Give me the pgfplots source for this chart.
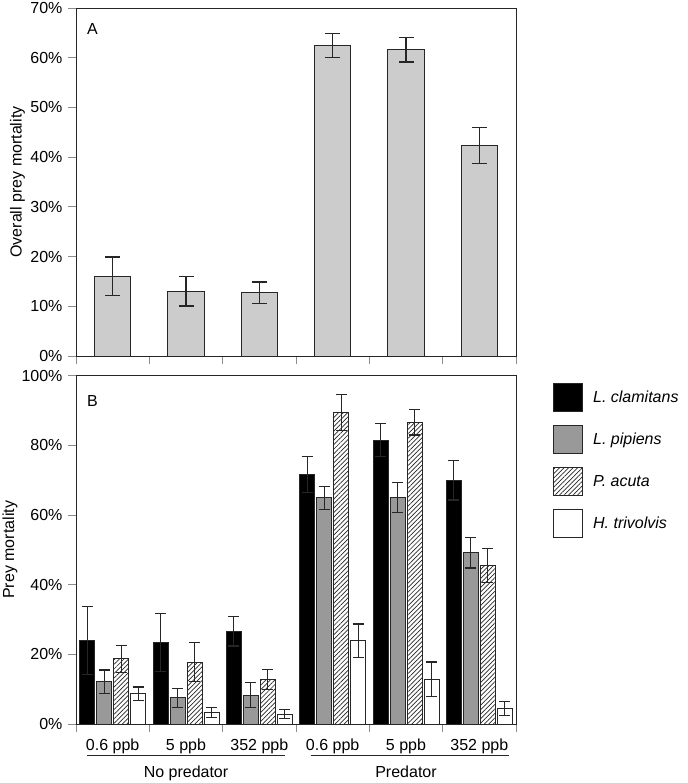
\documentclass[border=0pt]{standalone}
\usepackage{fontspec}
\setmainfont{Liberation Sans}
\usepackage{pgfplots}
\usepackage{pgfplotstable}
\pgfplotsset{compat=1.18}
\usetikzlibrary{patterns.meta}
\definecolor{edge}{HTML}{262626}
\definecolor{lgray}{HTML}{CCCCCC}
\definecolor{mgray}{HTML}{999999}
\definecolor{tickgray}{HTML}{8C8C8C}

\pgfplotstableread{
x y e
0.5 16.0 3.9
1.5 13.0 2.95
2.5 12.7 2.2
3.5 62.5 2.45
4.5 61.6 2.45
5.5 42.3 3.6
}\overall

\pgfplotstableread{
x clam eclam pip epip acu eacu tri etri
0.5 24.0 9.7 12.1 3.4 18.7 3.8 8.7 1.9
1.5 23.4 8.3 7.5 2.8 17.8 5.6 3.4 1.45
2.5 26.6 4.2 8.3 3.6 12.8 2.9 2.8 1.3
3.5 71.7 5.2 64.9 3.3 89.4 5.15 23.9 4.8
4.5 81.5 4.8 65.0 4.3 86.6 3.6 12.8 5.0
5.5 70.0 5.7 49.2 4.4 45.5 4.9 4.5 2.0
}\species

\pgfplotsset{
  common/.style={
    scale only axis, width=440pt,
    xmin=0, xmax=6, xtick={0,...,6}, xticklabels={},
    tick pos=left, tick align=outside, major tick length=8pt,
    tick style={tickgray, line width=1pt},
    axis line style={edge, line width=1pt},
    ybar, ymin=0,
    yticklabel style={font=\fontsize{16}{19.2}\selectfont},
    ylabel style={font=\fontsize{16}{19.2}\selectfont},
  },
  errs/.style={
    error bars/.cd, y dir=both, y explicit,
    error bar style={edge, line width=1.2pt},
    error mark options={rotate=90, edge, line width=1.2pt, mark size=#1},
  },
}

\begin{document}
\fontsize{16}{19.2}\selectfont%
\begin{tikzpicture}
\useasboundingbox (0,0) rectangle (687pt,-783pt);

% Panel A
\begin{axis}[common,
  at={(76pt,-356pt)}, anchor=south west, height=348pt,
  ymax=70, ytick={0,10,...,70},
  yticklabels={0\%,10\%,20\%,30\%,40\%,50\%,60\%,70\%},
  ylabel={Overall prey mortality},
  ylabel style={at={(axis description cs:-0.133,0.5)}, anchor=center},
  bar width=36.5pt, clip=false]
\addplot[fill=lgray, draw=edge, line width=1pt, errs=7.5pt]
  table[x=x, y=y, y error=e] {\overall};
\node[anchor=base west, inner sep=0pt] at (axis description cs:0.025,0.925) {A};
\end{axis}

% Panel B
\begin{axis}[common,
  at={(76pt,-724pt)}, anchor=south west, height=348.3pt,
  ymax=100, ytick={0,20,...,100},
  yticklabels={0\%,20\%,40\%,60\%,80\%,100\%},
  ylabel={Prey mortality},
  ylabel style={at={(axis description cs:-0.15,0.5)}, anchor=center},
  bar width=15pt, clip=false,
  extra x ticks={0.5,1.5,2.5,3.5,4.5,5.5},
  extra x tick labels={0.6 ppb,5 ppb,352 ppb,0.6 ppb,5 ppb,352 ppb},
  extra x tick style={major tick length=0pt,
    tick label style={anchor=base, yshift=-26pt, font=\fontsize{16}{19.2}\selectfont}},
  legend image code/.code={\draw[#1] (0pt,-14pt) rectangle (29pt,14pt);},
  legend style={at={(1.084,0.979)}, anchor=north west, draw=none,
    inner sep=0pt, row sep=13pt, font=\fontsize{16}{19.2}\selectfont\itshape,
    cells={anchor=west},
    /tikz/every odd column/.append style={column sep=8pt}},
  legend cell align=left]
\addplot[fill=black, draw=edge, line width=1pt, errs=5.5pt]
  table[x=x, y=clam, y error=eclam] {\species};
\addplot[fill=mgray, draw=edge, line width=1pt, errs=5.5pt]
  table[x=x, y=pip, y error=epip] {\species};
\addplot[fill=white, postaction={pattern={Lines[angle=45,distance=3.2pt,line width=0.7pt]}, pattern color=edge},
  draw=edge, line width=1pt, errs=5.5pt]
  table[x=x, y=acu, y error=eacu] {\species};
\addplot[fill=white, draw=edge, line width=1pt, errs=5.5pt]
  table[x=x, y=tri, y error=etri] {\species};
\legend{L. clamitans, L. pipiens, P. acuta, H. trivolvis}
\node[anchor=base west, inner sep=0pt] at (axis description cs:0.025,0.911) {B};
\draw[edge, line width=1pt] (axis cs:0.15,-9.1) -- (axis cs:2.85,-9.1);
\draw[edge, line width=1pt] (axis cs:3.2,-9.1) -- (axis cs:5.9,-9.1);
\node[anchor=base] at (axis cs:1.5,-15.3) {No predator};
\node[anchor=base] at (axis cs:4.5,-15.3) {Predator};
\end{axis}
\end{tikzpicture}
\end{document}
